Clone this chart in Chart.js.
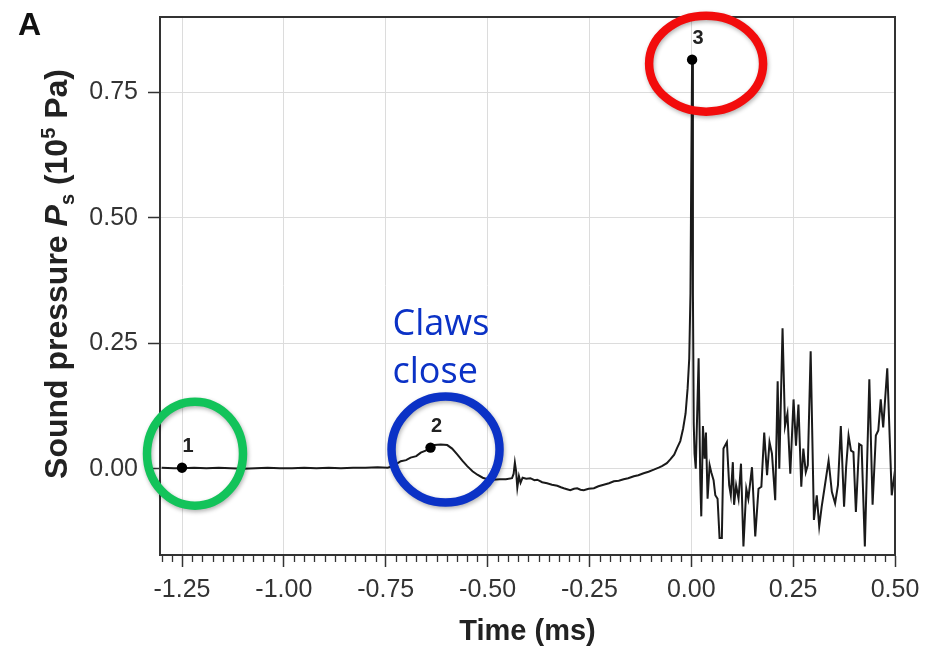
<!DOCTYPE html>
<html>
<head>
<meta charset="utf-8">
<script src="https://cdn.jsdelivr.net/npm/chart.js@4.4.0/dist/chart.umd.min.js"></script>
<style>
  html, body { margin: 0; padding: 0; background: #fff; }
  #wrap { width: 927px; height: 647px; }
</style>
</head>
<body>
<div id="wrap"><canvas id="psChart" width="927" height="647"></canvas></div>
<script>
// snapping shrimp sound pressure trace, time in ms, pressure in 10^5 Pa
const timeMs = [
  -1.300, -1.270, -1.250, -1.220, -1.190, -1.160, -1.130, -1.100, -1.070, -1.040,
  -1.010, -0.980, -0.950, -0.920, -0.890, -0.860, -0.830, -0.800, -0.770, -0.745,
  -0.730, -0.713, -0.700, -0.689, -0.675, -0.664, -0.652, -0.640, -0.630, -0.615,
  -0.599, -0.587, -0.574, -0.562, -0.550, -0.537, -0.525, -0.512, -0.500, -0.487,
  -0.470, -0.455, -0.440, -0.436, -0.433, -0.430, -0.427, -0.423, -0.419, -0.414,
  -0.405, -0.395, -0.385, -0.378, -0.366, -0.354, -0.342, -0.329, -0.320, -0.313,
  -0.305, -0.297, -0.288, -0.280, -0.272, -0.264, -0.252, -0.239, -0.228, -0.215,
  -0.202, -0.190, -0.178, -0.166, -0.155, -0.141, -0.130, -0.117, -0.105, -0.092,
  -0.080, -0.072, -0.060, -0.051, -0.042, -0.035, -0.027, -0.020, -0.014, -0.009,
  -0.005, -0.002, 0.000, 0.002, 0.004, 0.006, 0.008, 0.011, 0.018, 0.022,
  0.0245, 0.0286, 0.0327, 0.036, 0.040, 0.045, 0.049, 0.0547, 0.059, 0.0645,
  0.0694, 0.075, 0.079, 0.0874, 0.093, 0.097, 0.102, 0.105, 0.110, 0.116,
  0.122, 0.128, 0.135, 0.140, 0.149, 0.157, 0.165, 0.172, 0.179, 0.186,
  0.192, 0.198, 0.206, 0.212, 0.216, 0.224, 0.230, 0.236, 0.243, 0.251,
  0.257, 0.263, 0.270, 0.275, 0.281, 0.286, 0.293, 0.301, 0.308, 0.314,
  0.320, 0.328, 0.337, 0.345, 0.353, 0.360, 0.367, 0.375, 0.380, 0.386,
  0.392, 0.398, 0.404, 0.412, 0.418, 0.426, 0.437, 0.445, 0.453, 0.459,
  0.465, 0.471, 0.481, 0.492, 0.500
];
const pressure = [
  0.002, 0.001, 0.001, 0.002, 0.001, 0.002, 0.001, 0.000, 0.001, 0.002,
  0.001, 0.001, 0.002, 0.001, 0.002, 0.001, 0.002, 0.002, 0.003, 0.002,
  0.006, 0.015, 0.017, 0.022, 0.025, 0.032, 0.036, 0.042, 0.047, 0.048,
  0.047, 0.040, 0.028, 0.016, 0.005, -0.005, -0.012, -0.018, -0.021, -0.022,
  -0.021, -0.021, -0.019, -0.010, 0.012, -0.005, -0.038, -0.015, -0.028, -0.018,
  -0.020, -0.019, -0.023, -0.022, -0.027, -0.029, -0.032, -0.034, -0.037, -0.039,
  -0.041, -0.043, -0.040, -0.039, -0.042, -0.043, -0.040, -0.039, -0.035, -0.032,
  -0.029, -0.025, -0.024, -0.021, -0.019, -0.015, -0.013, -0.009, -0.006, -0.002,
  0.002, 0.005, 0.011, 0.019, 0.028, 0.041, 0.055, 0.080, 0.110, 0.160,
  0.220, 0.350, 0.600, 0.815, 0.350, 0.090, 0.030, 0.000, 0.220, -0.020,
  -0.095, 0.085, 0.020, 0.072, -0.060, 0.007, -0.007, -0.023, -0.053, -0.060,
  -0.138, -0.138, 0.040, 0.053, -0.033, -0.053, 0.013, -0.072, -0.033, -0.060,
  0.010, -0.155, -0.040, -0.060, 0.003, -0.135, -0.040, -0.036, 0.072, -0.013,
  0.053, 0.030, -0.063, 0.174, 0.000, 0.280, 0.085, 0.110, -0.010, 0.138,
  0.046, 0.128, -0.036, 0.040, -0.007, 0.007, 0.234, -0.102, -0.053, -0.115,
  -0.076, -0.033, 0.016, -0.046, -0.069, -0.033, 0.085, -0.076, 0.003, 0.066,
  0.036, 0.033, -0.086, 0.049, 0.046, -0.155, 0.178, -0.072, 0.066, 0.076,
  0.138, 0.082, 0.200, -0.053, -0.003
];

// numbered event points on the trace
const markerTimes = [-1.25, -0.640, 0.002];
const markerValues = [0.002, 0.042, 0.815];
const markerLabels = ["1", "2", "3"];

const xTicks = [-1.25, -1.0, -0.75, -0.5, -0.25, 0.0, 0.25, 0.5];
const yTicks = [0.0, 0.25, 0.5, 0.75];

// rings around the events (pixel offsets from each marker)
const rings = [
  { idx: 0, color: "#12c35a", dx: 13, dy: -14, rx: 48, ry: 52 },
  { idx: 1, color: "#0b32c6", dx: 15, dy: 2, rx: 54, ry: 53 },
  { idx: 2, color: "#f20c0c", dx: 14, dy: 4, rx: 57, ry: 48 },
];

const FONT = "'Liberation Sans', Arial, Helvetica, sans-serif";

const tracePoints = timeMs.map((t, i) => ({ x: t, y: pressure[i] }));
const markerPoints = markerTimes.map((t, i) => ({ x: t, y: markerValues[i] }));

const overlayPlugin = {
  id: "overlay",
  afterDraw(chart) {
    const ctx = chart.ctx;
    const xs = chart.scales.x;
    const ys = chart.scales.y;
    const { left, right, top, bottom } = chart.chartArea;

    ctx.save();
    // top + right frame
    ctx.strokeStyle = "#333";
    ctx.lineWidth = 2;
    ctx.beginPath();
    ctx.moveTo(left - 1, top);
    ctx.lineTo(right, top);
    ctx.lineTo(right, bottom + 1);
    ctx.stroke();

    // minor ticks on time axis
    ctx.lineWidth = 1.3;
    for (let k = 0; k <= 72; k++) {
      const t = -1.3 + k * 0.025;
      if (Math.abs(t / 0.25 - Math.round(t / 0.25)) < 1e-6) continue;
      const px = Math.round(xs.getPixelForValue(t)) + 0.5;
      ctx.beginPath();
      ctx.moveTo(px, bottom);
      ctx.lineTo(px, bottom + 7);
      ctx.stroke();
    }

    // event numbers
    ctx.fillStyle = "#222";
    ctx.font = "bold 20px " + FONT;
    ctx.textAlign = "center";
    ctx.textBaseline = "alphabetic";
    markerLabels.forEach((lab, i) => {
      const px = xs.getPixelForValue(markerTimes[i]);
      const py = ys.getPixelForValue(markerValues[i]);
      ctx.fillText(lab, px + 6, py - 16);
    });

    // rings
    rings.forEach((r) => {
      const px = xs.getPixelForValue(markerTimes[r.idx]) + r.dx;
      const py = ys.getPixelForValue(markerValues[r.idx]) + r.dy;
      ctx.save();
      ctx.shadowColor = "rgba(0,0,0,0.3)";
      ctx.shadowBlur = 4;
      ctx.shadowOffsetX = 1;
      ctx.shadowOffsetY = 2;
      ctx.strokeStyle = r.color;
      ctx.lineWidth = 8.5;
      ctx.beginPath();
      ctx.ellipse(px, py, r.rx, r.ry, 0, 0, Math.PI * 2);
      ctx.stroke();
      ctx.restore();
    });

    // "Claws close" note above event 2
    const p2x = xs.getPixelForValue(markerTimes[1]);
    const p2y = ys.getPixelForValue(markerValues[1]);
    ctx.fillStyle = "#0b32c6";
    ctx.font = "36px 'Open Sans', sans-serif";
    ctx.textAlign = "left";
    ctx.fillText("Claws", p2x - 38, p2y - 113);
    ctx.fillText("close", p2x - 38, p2y - 65);

    // panel letter
    ctx.fillStyle = "#111";
    ctx.font = "bold 32px " + FONT;
    ctx.fillText("A", 18, 35);

    // x title
    ctx.fillStyle = "#222";
    ctx.font = "bold 29px " + FONT;
    ctx.textAlign = "center";
    ctx.fillText("Time (ms)", (left + right) / 2, 640);

    // y title with italic P, subscript s and superscript 5
    const big = 32;
    const small = 20;
    const parts = [
      { text: "Sound pressure ", font: "bold " + big + "px " + FONT, dy: 0 },
      { text: "P", font: "italic bold " + big + "px " + FONT, dy: 0 },
      { text: "s", font: "bold " + small + "px " + FONT, dy: 7 },
      { text: " (10", font: "bold " + big + "px " + FONT, dy: 0 },
      { text: "5", font: "bold " + small + "px " + FONT, dy: -12 },
      { text: " Pa)", font: "bold " + big + "px " + FONT, dy: 0 },
    ];
    let total = 0;
    parts.forEach((p) => {
      ctx.font = p.font;
      p.w = ctx.measureText(p.text).width;
      total += p.w;
    });
    ctx.translate(67, 274);
    ctx.rotate(-Math.PI / 2);
    ctx.textAlign = "left";
    let cx = -total / 2;
    parts.forEach((p) => {
      ctx.font = p.font;
      ctx.fillText(p.text, cx, p.dy);
      cx += p.w;
    });
    ctx.restore();
  },
};

const ctx = document.getElementById("psChart").getContext("2d");
new Chart(ctx, {
  type: "line",
  data: {
    datasets: [
      {
        label: "events",
        type: "scatter",
        data: markerPoints,
        pointRadius: 5.2,
        pointBackgroundColor: "#000",
        pointBorderWidth: 0,
        order: 0,
      },
      {
        label: "Ps",
        data: tracePoints,
        borderColor: "#1a1a1a",
        borderWidth: 2,
        pointRadius: 0,
        tension: 0,
        fill: false,
        order: 1,
      },
    ],
  },
  options: {
    responsive: false,
    animation: false,
    devicePixelRatio: 1,
    layout: { padding: { left: 0, top: 17, right: 32, bottom: 0 } },
    plugins: {
      legend: { display: false },
      tooltip: { enabled: false },
    },
    scales: {
      x: {
        type: "linear",
        min: -1.304,
        max: 0.5,
        afterBuildTicks: (s) => {
          s.ticks = xTicks.map((v) => ({ value: v }));
        },
        afterFit: (s) => {
          s.height = 92;
          s.paddingLeft = 0;
          s.paddingRight = 0;
        },
        ticks: {
          autoSkip: false,
          maxRotation: 0,
          padding: 8,
          color: "#333",
          font: { family: FONT, size: 25 },
          callback: (v) => Number(v).toFixed(2),
        },
        grid: {
          color: "#dcdcdc",
          lineWidth: 1,
          tickLength: 12,
          tickColor: "#333",
          tickWidth: 1.5,
        },
        border: { color: "#333", width: 2 },
      },
      y: {
        type: "linear",
        min: -0.172,
        max: 0.9,
        afterBuildTicks: (s) => {
          s.ticks = yTicks.map((v) => ({ value: v }));
        },
        afterFit: (s) => {
          s.width = 160;
          s.paddingTop = 0;
          s.paddingBottom = 0;
        },
        ticks: {
          padding: 10,
          color: "#333",
          font: { family: FONT, size: 25 },
          callback: (v) => Number(v).toFixed(2),
        },
        grid: {
          color: "#dcdcdc",
          lineWidth: 1,
          tickLength: 12,
          tickColor: "#333",
          tickWidth: 1.5,
        },
        border: { color: "#333", width: 2 },
      },
    },
  },
  plugins: [overlayPlugin],
});
</script>
</body>
</html>
